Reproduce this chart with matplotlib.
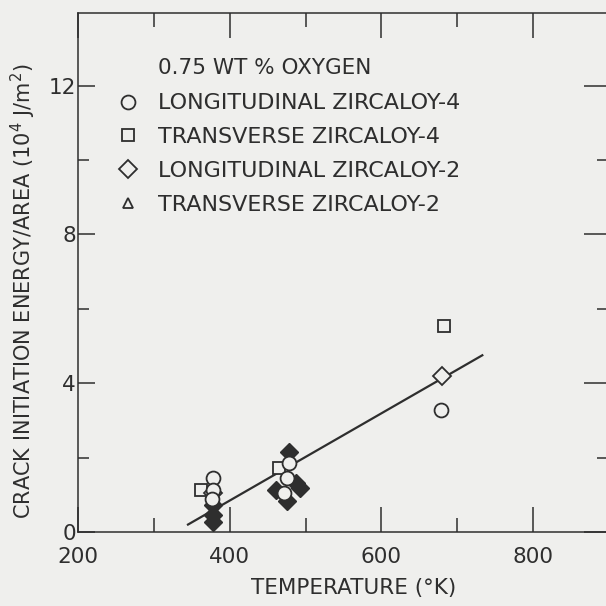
import numpy as np
import matplotlib
matplotlib.use("Agg")
from matplotlib import pyplot as plt
from matplotlib.lines import Line2D

# crack initiation energy per unit area (10^4 J/m^2) vs temperature (K)
long_zr4_T = [378, 378, 376, 478, 476, 472, 679]
long_zr4_E = [1.45, 1.12, 0.88, 1.85, 1.45, 1.05, 3.27]

trans_zr4_T = [362, 465, 682]
trans_zr4_E = [1.13, 1.72, 5.55]

long_zr2_T = [378, 680]
long_zr2_E = [1.05, 4.18]

# solid symbols in the low temperature groups
solid_T = [378, 378, 378, 478, 461, 493, 476, 488]
solid_E = [0.72, 0.47, 0.26, 2.15, 1.12, 1.18, 0.82, 1.32]

# straight line fit through the data
fit_T = [345, 733]
fit_E = [0.2, 4.75]

x_ticks = [200, 400, 600, 800]
y_ticks = [0, 4, 8, 12]

paper = "#efefed"
ink = "#2e2e2e"

plt.rcParams["font.family"] = ["DejaVu Sans"]

fig = plt.figure(figsize=(6.06, 6.06), dpi=100, facecolor=paper)
ax = fig.add_axes([78 / 606, 74 / 606, 531 / 606, 519 / 606], facecolor=paper)

ax.plot(fit_T, fit_E, color=ink, lw=1.6, zorder=2)

ax.plot(solid_T, solid_E, ls="none", marker="D", ms=9, mfc=ink, mec=ink, zorder=3)

open_style = dict(ls="none", mfc=paper, mec=ink, mew=1.3, zorder=4)
ax.plot(trans_zr4_T, trans_zr4_E, marker="s", ms=9, **open_style)
ax.plot(long_zr2_T, long_zr2_E, marker="D", ms=9.5, **open_style)
ax.plot(long_zr4_T, long_zr4_E, marker="o", ms=10, **open_style)

ax.set_xlim(200, 900)
ax.set_ylim(0, 13.95)
ax.set_xticks(x_ticks)
ax.set_xticks([300, 500, 700], minor=True)
ax.set_yticks(y_ticks)
ax.set_yticks([2, 6, 10], minor=True)

for side in ["left", "bottom", "top", "right"]:
    ax.spines[side].set_color(ink)
    ax.spines[side].set_linewidth(1.1)

ax.tick_params(axis="x", which="major", direction="in", top=True, length=18,
               width=1.1, color=ink, labelcolor=ink, labelsize=15.5, pad=11)
ax.tick_params(axis="x", which="minor", direction="in", top=True, length=10,
               width=1.1, color=ink)
ax.tick_params(axis="y", which="major", direction="in", length=12, width=1.1,
               color=ink, labelcolor=ink, labelsize=15.5, pad=1.5)
ax.tick_params(axis="y", which="minor", direction="in", length=8, width=1.1,
               color=ink)

# longer ticks on the right hand side
ax_r = ax.twinx()
ax_r.set_ylim(ax.get_ylim())
ax_r.set_yticks(y_ticks)
ax_r.set_yticks([2, 6, 10], minor=True)
ax_r.tick_params(axis="y", which="major", direction="in", length=18, width=1.1,
                 color=ink, labelright=False)
ax_r.tick_params(axis="y", which="minor", direction="in", length=9, width=1.1,
                 color=ink)
for s in ax_r.spines.values():
    s.set_visible(False)

ax.set_xlabel("TEMPERATURE (°K)", fontsize=15.5, color=ink)
ax.xaxis.set_label_coords(0.52, -0.088)
ax.set_ylabel("CRACK INITIATION ENERGY/AREA (10$^4$ J/m$^2$)", fontsize=15,
              color=ink)
ax.yaxis.set_label_coords(-0.076, 0.464)

ax.text(0.151, 0.894, "0.75 WT % OXYGEN", transform=ax.transAxes,
        fontsize=15.5, color=ink, va="center", ha="left")

handles = [
    Line2D([], [], marker="o", ms=10, **open_style),
    Line2D([], [], marker="s", ms=9, **open_style),
    Line2D([], [], marker="D", ms=9.5, **open_style),
    Line2D([], [], marker="^", ms=7, **open_style),
]
labels = ["LONGITUDINAL ZIRCALOY-4", "TRANSVERSE ZIRCALOY-4",
          "LONGITUDINAL ZIRCALOY-2", "TRANSVERSE ZIRCALOY-2"]
leg = ax.legend(handles, labels, loc="upper left", bbox_to_anchor=(0.073, 0.845),
                frameon=False, fontsize=16, handlelength=1.0, handletextpad=0.85,
                labelspacing=0.62, borderpad=0, borderaxespad=0)
for t in leg.get_texts():
    t.set_color(ink)

fig.savefig("out.png", dpi=100, facecolor=paper)
